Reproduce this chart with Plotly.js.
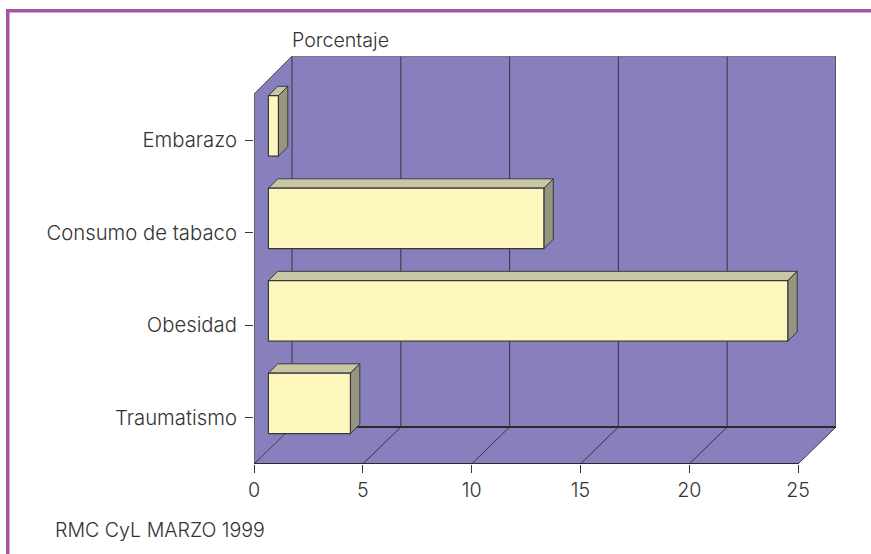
<!DOCTYPE html>
<html>
<head>
<meta charset="utf-8">
<script src="https://cdn.plot.ly/plotly-3.0.1.min.js"></script>
<style>html,body{margin:0;padding:0;background:#fff}#chart{width:871px;height:554px}</style>
</head>
<body>
<div id="chart"></div>
<script>
// Data
const categories = ["Traumatismo", "Obesidad", "Consumo de tabaco", "Embarazo"];
const percentages = [3.77, 23.87, 12.66, 0.46];
const xTicks = [0, 5, 10, 15, 20, 25];
const xTitle = "Porcentaje";
const sourceNote = "RMC CyL MARZO 1999";

// Colours
const WALL = "#8880bc", FRONT = "#fdf6bd", TOP = "#c9c6a4", SIDE = "#96957f";
const EDGE = "#38353f", TEXT = "#333333", FRAME = "#ab53a3";
const FONT = "Inter, sans-serif";
const textFont = {family: FONT, size: 19.6, color: TEXT, weight: 300};
const labelFont = {family: FONT, size: 20.3, color: TEXT, weight: 300};

// Plot-area geometry (px) – used only to fix the axes and the oblique projection
const W = 871, H = 554, L = 254, R = 836, T = 56, B = 464;
const xUnit = 544 / 25, yUnit = 92.5;
const depthX = 38 / xUnit, depthY = 37 / yUnit;        // floor depth in axis units
const barOffX = 14.4 / xUnit, barOffY = 14.3 / yUnit;  // where a bar's front sits
const barDepX = 9.4 / xUnit, barDepY = 9.4 / yUnit;    // a bar's own depth
const barH = 60.5 / yUnit;
const yMin = -0.5, yFrontTop = categories.length - 0.5;
const xMax = (R - L) / xUnit, yMax = yMin + (B - T) / yUnit;
const xEnd = xTicks[xTicks.length - 1];

const traces = [];
function poly(xs, ys, fill, width, color) {
  traces.push({
    type: "scatter", mode: "lines", x: xs, y: ys, fill: "toself", fillcolor: fill,
    line: {color: color || EDGE, width: width === undefined ? 1 : width},
    hoverinfo: "skip", showlegend: false
  });
}
function line(xs, ys, width, color) {
  traces.push({
    type: "scatter", mode: "lines", x: xs, y: ys,
    line: {color: color || EDGE, width: width === undefined ? 1 : width},
    hoverinfo: "skip", showlegend: false
  });
}

// Walls and floor
poly([0, depthX, depthX, 0, 0], [yFrontTop, yMax, yMin + depthY, yMin, yFrontTop], WALL, 0);
poly([depthX, xEnd + depthX, xEnd + depthX, depthX, depthX],
     [yMin + depthY, yMin + depthY, yMax, yMax, yMin + depthY], WALL, 0);
poly([0, xEnd, xEnd + depthX, depthX, 0],
     [yMin, yMin, yMin + depthY, yMin + depthY, yMin], WALL, 0);

// Grid on the back wall and the floor
xTicks.forEach(v => {
  line([v + depthX, v + depthX], [yMin + depthY, yMax], 1);
  line([v, v + depthX], [yMin, yMin + depthY], 1);
});
// Wall edges and axis lines
line([depthX, xEnd + depthX], [yMax, yMax], 1.5, "#77757f");
line([xEnd + depthX, xEnd + depthX], [yMax, yMin + depthY], 1.5, "#55535f");
line([depthX, xEnd + depthX], [yMin + depthY, yMin + depthY], 2, "#2c2a30");
line([0, depthX], [yFrontTop, yMax], 1, "#55535f");
line([0, 0], [yFrontTop, yMin], 1.5, "#55535f");
line([0, xEnd], [yMin, yMin], 2, "#2c2a30");

// Bars: top, side, front
percentages.forEach((v, i) => {
  const x0 = barOffX, x1 = barOffX + v;
  const y0 = i + barOffY - barH / 2, y1 = i + barOffY + barH / 2;
  poly([x0, x1, x1 + barDepX, x0 + barDepX, x0], [y1, y1, y1 + barDepY, y1 + barDepY, y1], TOP);
  poly([x1, x1 + barDepX, x1 + barDepX, x1, x1], [y0, y0 + barDepY, y1 + barDepY, y1, y0], SIDE);
  poly([x0, x1, x1, x0, x0], [y0, y0, y1, y1, y0], FRONT, 1.2);
});

const layout = {
  width: W, height: H,
  margin: {l: L, r: W - R, t: T, b: H - B, pad: 0},
  paper_bgcolor: "#ffffff", plot_bgcolor: "rgba(0,0,0,0)",
  showlegend: false,
  font: textFont,
  xaxis: {
    range: [0, xMax], tickmode: "array", tickvals: xTicks, ticktext: xTicks.map(String),
    ticks: "outside", ticklen: 8, tickwidth: 1, tickcolor: EDGE, tickfont: textFont,
    showgrid: false, zeroline: false, showline: false, fixedrange: true
  },
  yaxis: {
    range: [yMin, yMax], tickmode: "array", tickvals: categories.map((c, i) => i), ticktext: categories,
    ticks: "outside", ticklen: 8, tickwidth: 1, tickcolor: EDGE, tickfont: labelFont, ticklabelstandoff: 4,
    showgrid: false, zeroline: false, showline: false, fixedrange: true
  },
  shapes: [
    {type: "rect", xref: "paper", yref: "paper", layer: "below", line: {width: 0}, fillcolor: FRAME,
     x0: (6 - L) / (R - L), x1: (9.5 - L) / (R - L), y0: (B - H) / (B - T), y1: (B - 9) / (B - T)},
    {type: "rect", xref: "paper", yref: "paper", layer: "below", line: {width: 0}, fillcolor: FRAME,
     x0: (6 - L) / (R - L), x1: (W - L) / (R - L), y0: (B - 12.5) / (B - T), y1: (B - 9) / (B - T)}
  ],
  annotations: [
    {text: xTitle, xref: "paper", yref: "paper", showarrow: false, xanchor: "left", yanchor: "middle",
     x: (290 - L) / (R - L), y: (B - 40) / (B - T), font: textFont},
    {text: sourceNote, xref: "paper", yref: "paper", showarrow: false, xanchor: "left", yanchor: "middle",
     x: (53 - L) / (R - L), y: (B - 530) / (B - T), font: textFont}
  ]
};
Plotly.newPlot("chart", traces, layout, {staticPlot: true, displayModeBar: false});
</script>
</body>
</html>
